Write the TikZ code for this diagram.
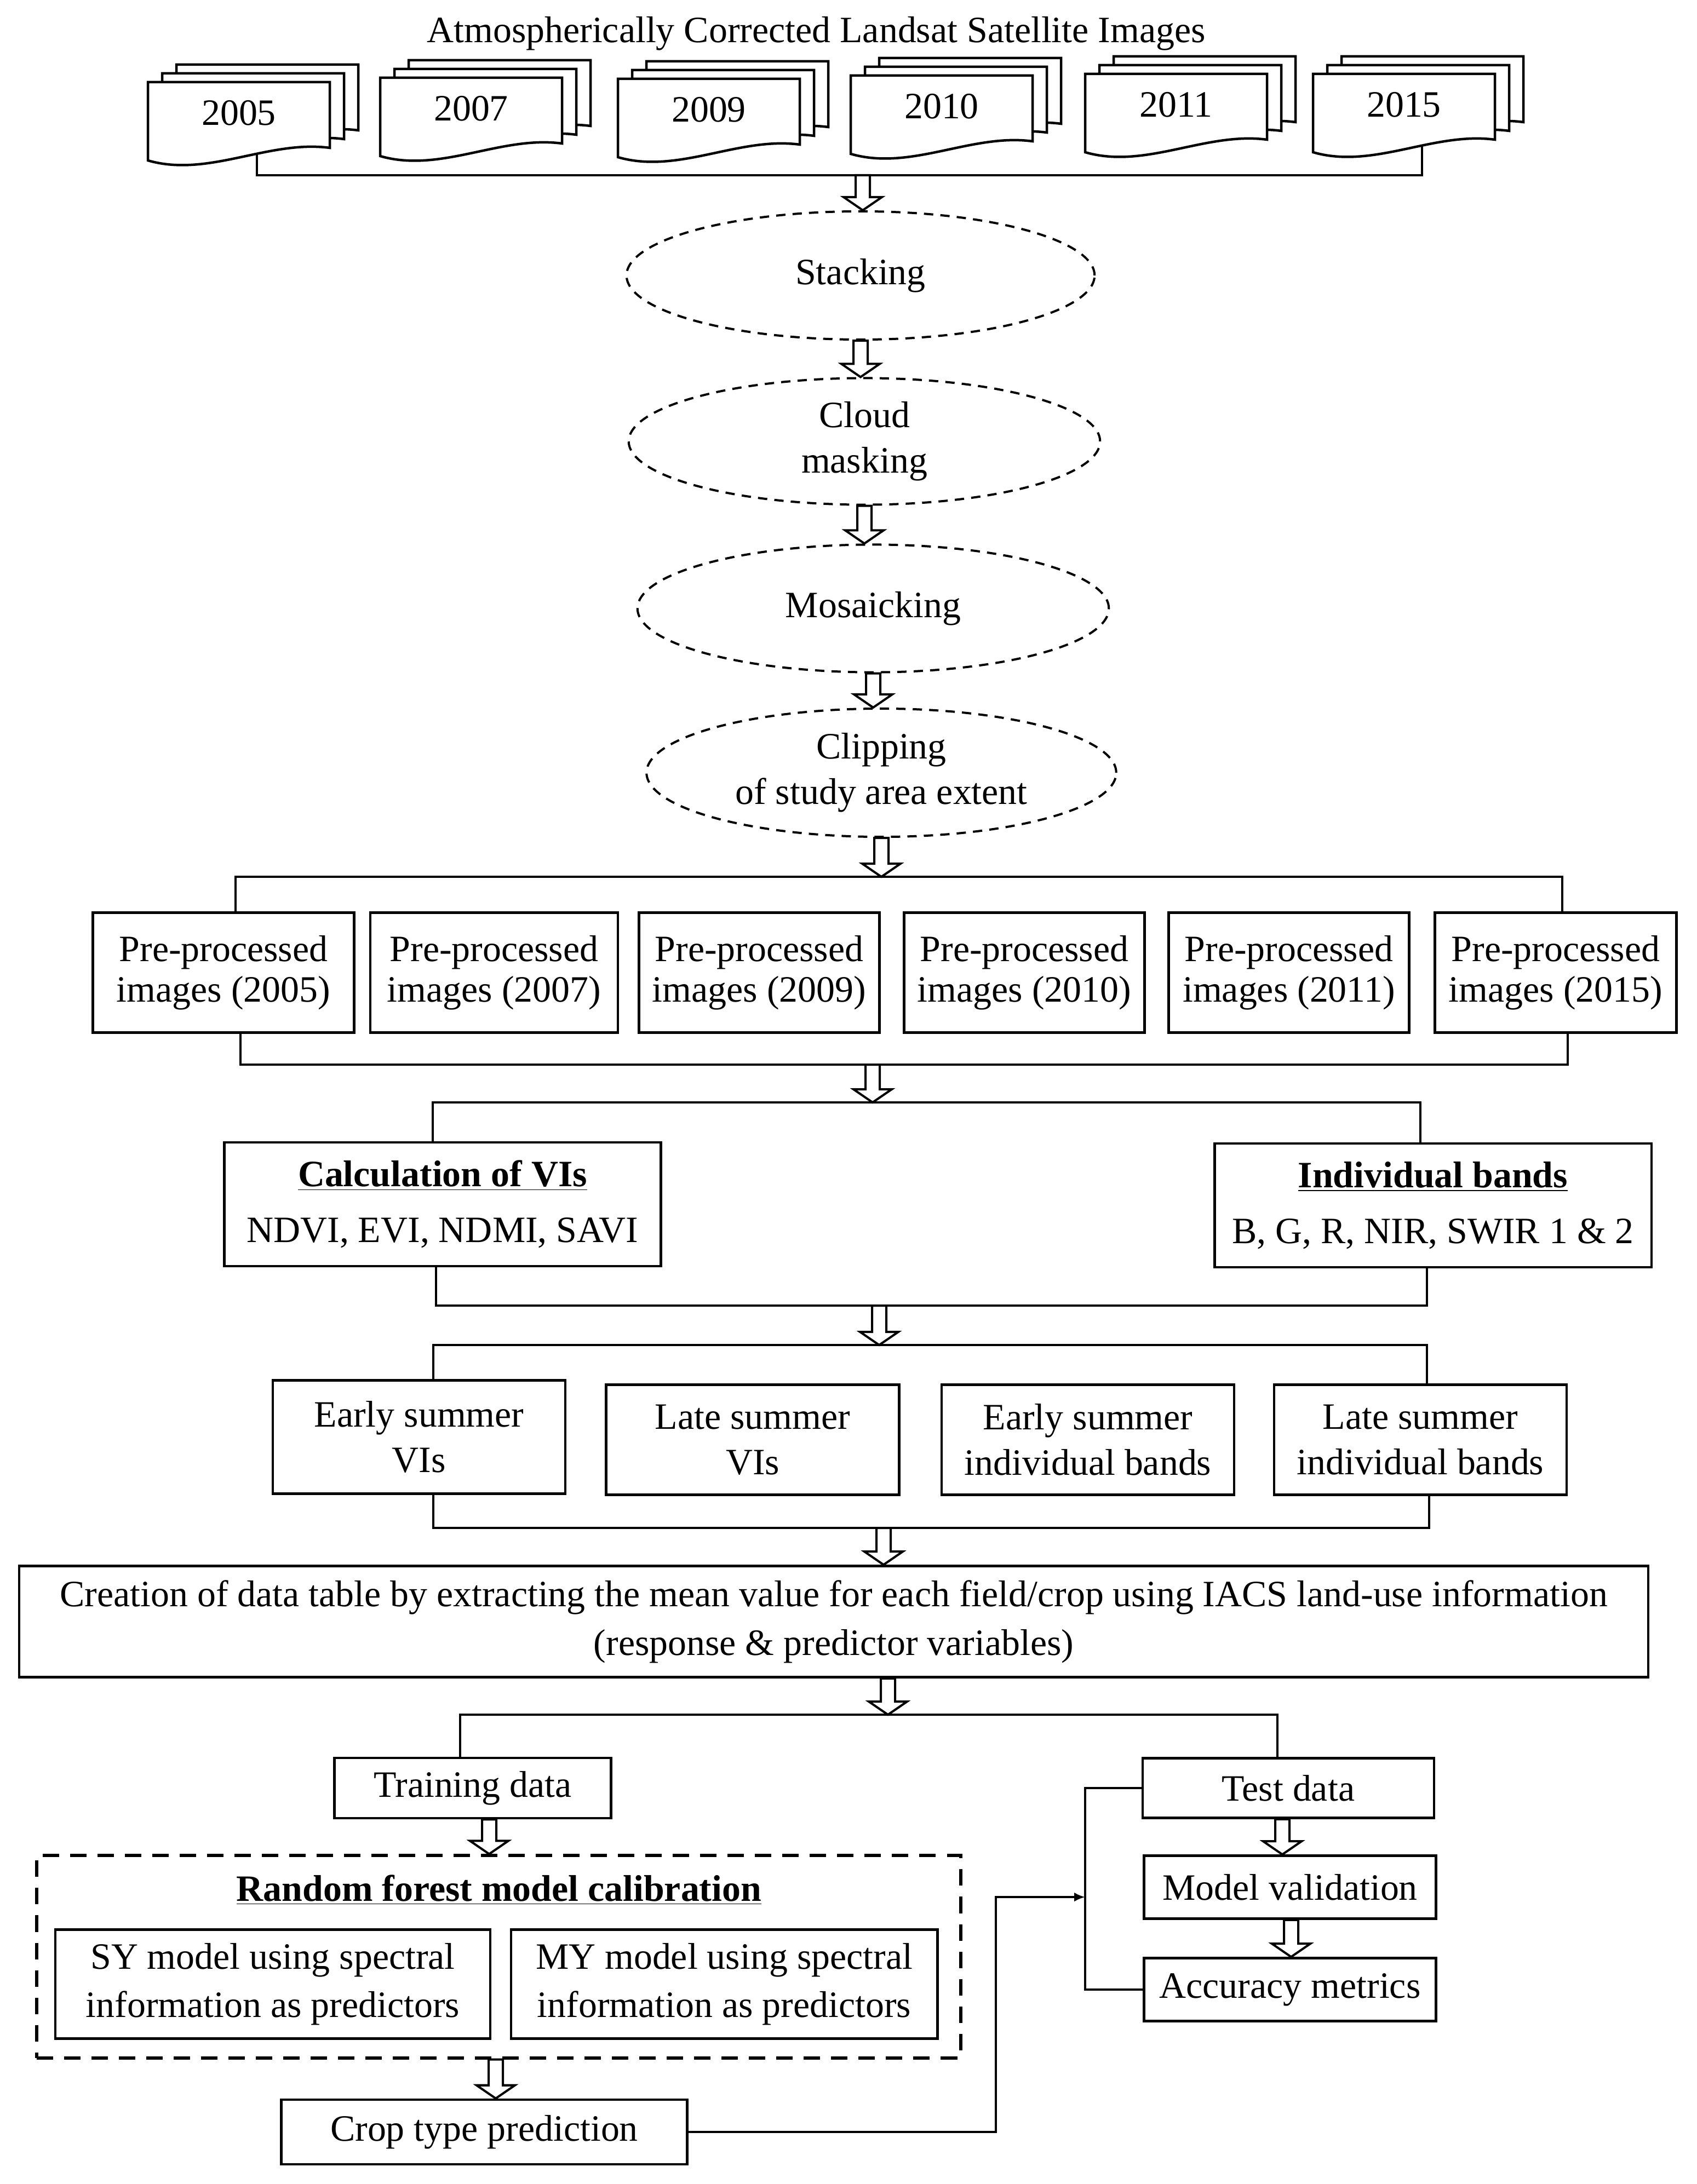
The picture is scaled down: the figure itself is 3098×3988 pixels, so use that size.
\documentclass[tikz,border=0pt]{standalone}
\usepackage{fontspec}
\setmainfont{Liberation Serif}
\usetikzlibrary{shapes.geometric,calc,arrows.meta}
\newcommand\docpg[2]{\filldraw[fill=white, line width=0.045cm, line join=miter] (#1,#2) -- (#1+332,#2) -- (#1+332,#2+120) .. controls (#1+220,#2+105) and (#1+110,#2+175) .. (#1,#2+143) -- cycle;}
\newcommand\docstack[3]{\docpg{#1+52}{#2-32}\docpg{#1+26}{#2-16}\docpg{#1}{#2}\node (y#3) at (#1+166,#2+56) {#3};\coordinate (c#3) at (#1+199,#2+131);}
\begin{document}
\begin{tikzpicture}[x=0.01cm,y=-0.01cm,
  every node/.style={font=\fontsize{19.3}{23.5}\selectfont, inner sep=0pt, align=center},
  lead/.style={font=\fontsize{19.3}{#1}\selectfont},
  box/.style={draw, rectangle, line width=0.045cm},
  sz/.style 2 args={minimum width=#1cm, minimum height=#2cm},
  ell/.style={ellipse, draw, line width=0.04cm, dash pattern=on 0.17cm off 0.13cm},
  rfbox/.style={draw, rectangle, line width=0.06cm, dash pattern=on 0.3cm off 0.2cm},
  ln/.style={draw, line width=0.04cm},
  harrow/.style={draw, fill=white, line width=0.04cm, line join=miter,
    to path={let \p1=(\tikztostart), \p2=(\tikztotarget) in
      (\x1-0.13cm,\y1) -- (\x1-0.13cm,\y2+0.24cm) -- (\x1-0.35cm,\y2+0.24cm) -- (\x1,\y2)
      -- (\x1+0.35cm,\y2+0.24cm) -- (\x1+0.13cm,\y2+0.24cm) -- (\x1+0.13cm,\y1) -- cycle}}]
\useasboundingbox (0,0) rectangle (3098,3988);
\fill[white] (0,0) rectangle (3098,3988);

% title and image stacks
\node[anchor=base] (title) at (1490,78) {Atmospherically Corrected Landsat Satellite Images};
\docstack{270}{150}{2005}
\docstack{694}{142}{2007}
\docstack{1128}{144}{2009}
\docstack{1553}{138}{2010}
\docstack{1981}{135}{2011}
\docstack{2397}{135}{2015}

% ellipses
\node[ell, sz={8.54}{2.34}] (stack) at (1571,503) {Stacking};
\node[ell, sz={8.60}{2.31}] (cloud) at (1578,806) {Cloud\\masking};
\node[ell, sz={8.60}{2.33}] (mosaic) at (1594,1111) {Mosaicking};
\node[ell, sz={8.57}{2.34}] (clip) at (1609,1411) {Clipping\\of study area extent};

% pre-processed images
\node[box, lead=21, sz={4.77}{2.19}] (P1) at (408,1776) {Pre-processed\\images (2005)};
\node[box, lead=21, sz={4.52}{2.19}] (P2) at (902,1776) {Pre-processed\\images (2007)};
\node[box, lead=21, sz={4.39}{2.19}] (P3) at (1386,1776) {Pre-processed\\images (2009)};
\node[box, lead=21, sz={4.39}{2.19}] (P4) at (1870,1776) {Pre-processed\\images (2010)};
\node[box, lead=21, sz={4.39}{2.19}] (P5) at (2353,1776) {Pre-processed\\images (2011)};
\node[box, lead=21, sz={4.41}{2.19}] (P6) at (2840,1776) {Pre-processed\\images (2015)};

% VI and bands
\node[box, lead=29, sz={7.97}{2.26}] (calc) at (808,2199) {\underline{\textbf{Calculation of VIs}}\\NDVI, EVI, NDMI, SAVI};
\node[box, lead=29, sz={7.97}{2.26}] (ind) at (2616,2201) {\underline{\textbf{Individual bands}}\\B, G, R, NIR, SWIR 1 \& 2};

% summer boxes
\node[box, lead=23.6, sz={5.34}{2.07}] (esv) at (765,2624) {Early summer\\VIs};
\node[box, lead=23.6, sz={5.35}{2.01}] (lsv) at (1374,2629) {Late summer\\VIs};
\node[box, lead=23.6, sz={5.34}{2.01}] (esi) at (1986,2629) {Early summer\\individual bands};
\node[box, lead=23.6, sz={5.34}{2.01}] (lsi) at (2593,2629) {Late summer\\individual bands};

% creation
\node[box, lead=25.2, sz={29.72}{2.03}] (create) at (1522,2961) {Creation of data table by extracting the mean value for each field/crop using IACS land-use information\\(response \& predictor variables)};

% training / test
\node[box, sz={5.05}{1.10}] (train) at (863,3265) {Training data};
\node[box, sz={5.32}{1.09}] (test) at (2352,3265) {Test data};

% random forest
\node[rfbox, sz={16.86}{3.69}] (rf) at (910,3573) {};
\node[anchor=base] (rft) at (911,3471) {\underline{\textbf{Random forest model calibration}}};
\node[box, lead=25, sz={7.94}{1.99}] (sy) at (498,3623) {SY model using spectral\\information as predictors};
\node[box, lead=25, sz={7.78}{1.99}] (my) at (1322,3623) {MY model using spectral\\information as predictors};
\node[box, sz={7.41}{1.18}] (crop) at (884,3893) {Crop type prediction};

\node[box, sz={5.33}{1.15}] (mv) at (2355,3446) {Model validation};
\node[box, sz={5.33}{1.15}] (am) at (2355,3633) {Accuracy metrics};

% connectors: stacks
\coordinate (tb) at (1575,320);
\draw[ln] (c2005) |- (tb) -| (c2015);
\draw[harrow] (tb) to (stack.north);
\draw[harrow] (stack.south) to (cloud.north);
\draw[harrow] (cloud.south) to (mosaic.north);
\draw[harrow] (mosaic.south) to (clip.north);

% pre-processed brackets
\coordinate (ptL) at (430,1601);
\coordinate (ptR) at (2852,1601);
\draw[harrow] (clip.south) to (clip.south |- ptL);
\draw[ln] (P1.north -| ptL) -- (ptL) -- (ptR) -- (P6.north -| ptR);
\coordinate (pbL) at (439,1944);
\coordinate (pbR) at (2862,1944);
\coordinate (pbM) at (1593,1944);
\draw[ln] (P1.south -| pbL) -- (pbL) -- (pbR) -- (P6.south -| pbR);

% VI brackets
\coordinate (ctL) at (790,2013);
\coordinate (ctR) at (2593,2013);
\draw[harrow] (pbM) to (pbM |- ctL);
\draw[ln] (calc.north -| ctL) -- (ctL) -- (ctR) -- (ind.north -| ctR);
\coordinate (cbL) at (796,2384);
\coordinate (cbR) at (2605,2384);
\coordinate (cbM) at (1605,2384);
\draw[ln] (calc.south -| cbL) -- (cbL) -- (cbR) -- (ind.south -| cbR);

% summer brackets
\coordinate (stL) at (791,2456);
\coordinate (stR) at (2605,2456);
\draw[harrow] (cbM) to (cbM |- stL);
\draw[ln] (esv.north -| stL) -- (stL) -- (stR) -- (lsi.north -| stR);
\coordinate (sbL) at (791,2790);
\coordinate (sbR) at (2609,2790);
\coordinate (sbM) at (1613,2790);
\draw[ln] (esv.south -| sbL) -- (sbL) -- (sbR) -- (lsi.south -| sbR);
\draw[harrow] (sbM) to (create.north -| sbM);

% training / test bracket
\coordinate (trL) at (840,3131);
\coordinate (trR) at (2332,3131);
\coordinate (trM) at (1621,3131);
\draw[harrow] (create.south -| trM) to (trM);
\draw[ln] (train.north -| trL) -- (trL) -- (trR) -- (test.north -| trR);

% model flow
\coordinate (a1) at (893,3300);
\coordinate (a2) at (905,3800);
\coordinate (a3) at (2341,3350);
\coordinate (a4) at (2357,3540);
\draw[harrow] (train.south -| a1) to (rf.north -| a1);
\draw[harrow] (rf.south -| a2) to (crop.north -| a2);
\draw[harrow] (test.south -| a3) to (mv.north -| a3);
\draw[harrow] (mv.south -| a4) to (am.north -| a4);

% validation bracket and crop prediction link
\coordinate (vb) at (1981,3464);
\coordinate (ck) at (1818,3464);
\draw[ln] (test.west) -| (am.west -| vb) -- (am.west);
\draw[ln, -{Latex[length=0.2cm,width=0.17cm]}] (crop.east) -| (ck) -- (vb);
\end{tikzpicture}
\end{document}
